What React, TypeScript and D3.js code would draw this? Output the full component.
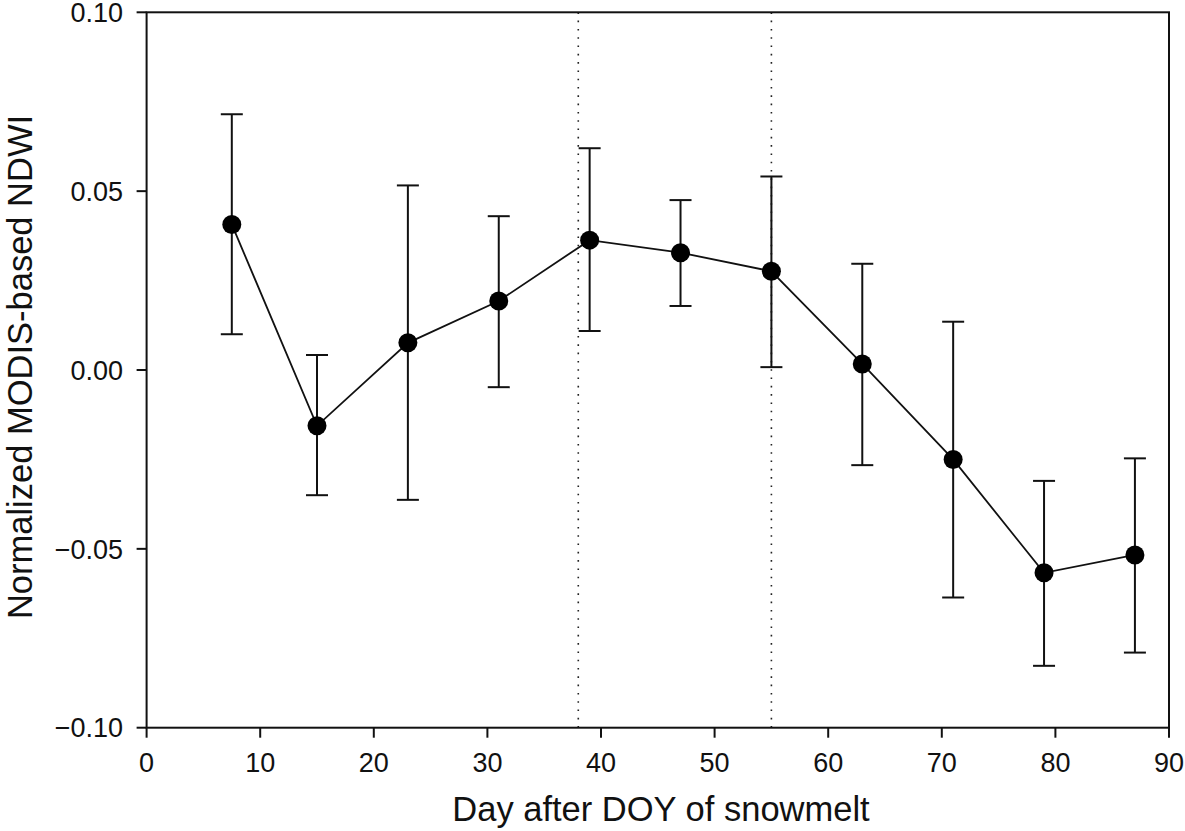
import React from "react";
import * as d3 from "d3";

const days = [7.5, 15, 23, 31, 39, 47, 55, 63, 71, 79, 87];
const meanNDWI = [0.0407, -0.0156, 0.0076, 0.0193, 0.0363, 0.0328, 0.0276, 0.0017, -0.025, -0.0567, -0.0517];
const upperNDWI = [0.0715, 0.0042, 0.0516, 0.043, 0.062, 0.0475, 0.0541, 0.0297, 0.0135, -0.031, -0.0247];
const lowerNDWI = [0.01, -0.035, -0.0363, -0.0048, 0.0109, 0.0179, 0.0008, -0.0266, -0.0636, -0.0827, -0.079];
const refLines = [38, 55];
const xTicks = [0, 10, 20, 30, 40, 50, 60, 70, 80, 90];
const yTicks = [-0.1, -0.05, 0.0, 0.05, 0.1];
const xTitle = "Day after DOY of snowmelt";
const yTitle = "Normalized MODIS-based NDWI";

const W = 1185;
const H = 831;
const L = 146.6;
const R = 1169;
const T = 12.3;
const B = 727.7;

export default function App() {
  const x = d3.scaleLinear().domain([0, 90]).range([L, R]);
  const y = d3.scaleLinear().domain([-0.1, 0.1]).range([B, T]);
  const line = d3
    .line<number>()
    .x((_, i) => x(days[i]))
    .y((d) => y(d));
  const font = "'Liberation Sans', Arial, sans-serif";
  const cap = 11;
  return (
    <div style={{ position: "absolute", left: 0, top: 0 }}>
      <svg width={W} height={H} style={{ display: "block", background: "#fff" }}>
        {refLines.map((v) => (
          <line
            key={v}
            x1={x(v)}
            x2={x(v)}
            y1={T}
            y2={B}
            stroke="#222"
            strokeWidth={1.6}
            strokeDasharray="1.6,6.7"
          />
        ))}
        <rect x={L} y={T} width={R - L} height={B - T} fill="none" stroke="#111" strokeWidth={2} />
        {xTicks.map((t) => (
          <g key={"x" + t}>
            <line x1={x(t)} x2={x(t)} y1={B} y2={B + 10} stroke="#111" strokeWidth={2} />
            <text x={x(t)} y={772} textAnchor="middle" fontFamily={font} fontSize={27} fill="#111">
              {t}
            </text>
          </g>
        ))}
        {yTicks.map((t) => (
          <g key={"y" + t}>
            <line x1={L - 10} x2={L} y1={y(t)} y2={y(t)} stroke="#111" strokeWidth={2} />
            <text
              x={123}
              y={y(t)}
              dy="0.36em"
              textAnchor="end"
              fontFamily={font}
              fontSize={27}
              fill="#111"
            >
              {t < 0 ? "\u2212" + Math.abs(t).toFixed(2) : t.toFixed(2)}
            </text>
          </g>
        ))}
        <path d={line(meanNDWI) || ""} fill="none" stroke="#111" strokeWidth={1.8} />
        {days.map((d, i) => (
          <g key={"e" + i} stroke="#111" strokeWidth={2}>
            <line x1={x(d)} x2={x(d)} y1={y(upperNDWI[i])} y2={y(lowerNDWI[i])} />
            <line x1={x(d) - cap} x2={x(d) + cap} y1={y(upperNDWI[i])} y2={y(upperNDWI[i])} />
            <line x1={x(d) - cap} x2={x(d) + cap} y1={y(lowerNDWI[i])} y2={y(lowerNDWI[i])} />
          </g>
        ))}
        {days.map((d, i) => (
          <circle key={"c" + i} cx={x(d)} cy={y(meanNDWI[i])} r={9.5} fill="#000" />
        ))}
        <text x={661} y={821} textAnchor="middle" fontFamily={font} fontSize={34.5} fill="#111">
          {xTitle}
        </text>
        <text
          transform={`translate(32, 367) rotate(-90)`}
          textAnchor="middle"
          fontFamily={font}
          fontSize={34.5}
          fill="#111"
        >
          {yTitle}
        </text>
      </svg>
    </div>
  );
}
